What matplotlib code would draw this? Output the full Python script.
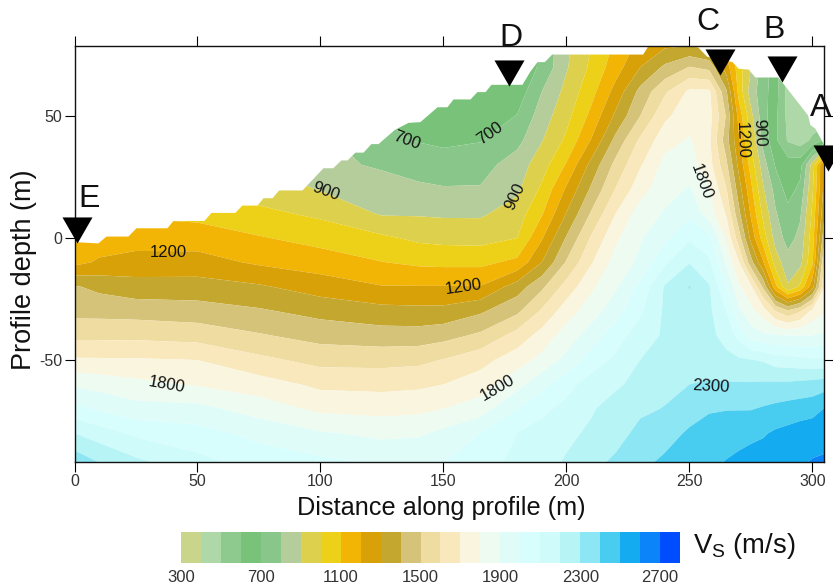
#!/usr/bin/env python
# -*- coding: utf-8 -*-
import numpy as np
import matplotlib
matplotlib.use('Agg')
import matplotlib.pyplot as plt

plt.rcParams['font.family'] = ['Liberation Sans', 'DejaVu Sans']
plt.rcParams['mathtext.fontset'] = 'custom'
plt.rcParams['mathtext.rm'] = 'Liberation Sans'
plt.rcParams['axes.unicode_minus'] = False

# Vs section
distance = [0, 10, 25, 50, 75, 100, 125, 140, 150, 165, 180, 190, 200, 210, 220, 230, 240, 250, 258,
            265, 270, 275, 280, 285, 290, 295, 300, 305]
depth = [79, 70, 60, 50, 40, 30, 20, 10, 0, -10, -20, -30, -40, -50, -60, -70, -80, -92]
vs = [
    [1000, 1000, 1000, 1000, 900, 800, 700, 660, 650, 620, 620, 720, 880, 1000, 1120, 1230, 1280, 1295, 1250, 1150, 1100, 950, 800, 700, 500, 450, 450, 450],
    [1000, 1000, 1000, 1000, 900, 800, 680, 650, 640, 620, 620, 720, 890, 1020, 1155, 1300, 1420, 1505, 1470, 1250, 1050, 900, 750, 650, 450, 440, 440, 440],
    [1000, 1000, 1000, 1000, 900, 800, 680, 630, 630, 620, 640, 800, 930, 1065, 1235, 1430, 1585, 1720, 1720, 1415, 1070, 850, 740, 640, 460, 430, 430, 430],
    [1000, 1000, 1000, 1000, 900, 810, 690, 630, 620, 630, 705, 850, 970, 1125, 1320, 1500, 1680, 1760, 1740, 1490, 1165, 930, 740, 625, 470, 440, 430, 430],
    [1000, 1000, 1000, 1000, 900, 820, 735, 695, 680, 695, 770, 895, 1020, 1205, 1430, 1620, 1760, 1810, 1720, 1440, 1220, 980, 770, 620, 490, 450, 520, 620],
    [1050, 1050, 1050, 1000, 900, 830, 785, 755, 745, 760, 850, 955, 1110, 1330, 1530, 1690, 1830, 1845, 1740, 1520, 1275, 1060, 845, 690, 650, 660, 945, 1350],
    [1060, 1060, 1060, 1040, 950, 895, 850, 820, 808, 808, 880, 1020, 1215, 1415, 1605, 1760, 1860, 1910, 1810, 1605, 1350, 1125, 910, 765, 660, 725, 985, 1350],
    [1080, 1080, 1085, 1070, 1025, 980, 890, 890, 885, 885, 950, 1090, 1305, 1510, 1700, 1850, 1910, 1975, 1850, 1690, 1430, 1185, 975, 810, 730, 785, 1020, 1400],
    [1130, 1140, 1155, 1152, 1108, 1065, 1018, 980, 970, 965, 1000, 1190, 1410, 1610, 1780, 1890, 1975, 2090, 2030, 1780, 1550, 1270, 1050, 860, 760, 830, 1055, 1480],
    [1170, 1215, 1240, 1240, 1185, 1150, 1103, 1080, 1075, 1075, 1125, 1300, 1510, 1690, 1840, 1920, 2085, 2195, 2120, 1880, 1710, 1440, 1210, 950, 840, 870, 1085, 1620],
    [1410, 1375, 1340, 1342, 1313, 1253, 1205, 1205, 1205, 1205, 1350, 1480, 1640, 1780, 1885, 2030, 2210, 2305, 2210, 2000, 1820, 1720, 1480, 1130, 910, 1020, 1260, 1700],
    [1470, 1468, 1460, 1445, 1413, 1368, 1335, 1328, 1330, 1385, 1480, 1615, 1755, 1850, 1960, 2085, 2215, 2260, 2220, 2100, 1920, 1830, 1750, 1600, 1520, 1590, 1730, 1790],
    [1570, 1572, 1575, 1560, 1510, 1464, 1445, 1445, 1465, 1520, 1640, 1740, 1845, 1950, 2055, 2150, 2215, 2250, 2230, 2160, 2070, 1950, 1920, 1910, 1900, 1900, 1900, 1920],
    [1714, 1712, 1710, 1700, 1625, 1567, 1565, 1575, 1605, 1665, 1755, 1830, 1930, 2045, 2120, 2200, 2250, 2270, 2260, 2230, 2215, 2205, 2190, 2150, 2145, 2130, 2120, 2120],
    [1883, 1860, 1828, 1790, 1745, 1678, 1670, 1680, 1700, 1750, 1865, 1970, 2065, 2145, 2185, 2230, 2270, 2300, 2310, 2310, 2310, 2310, 2315, 2320, 2320, 2330, 2340, 2355],
    [2030, 1990, 1937, 1930, 1855, 1776, 1765, 1775, 1800, 1850, 2000, 2075, 2130, 2190, 2240, 2280, 2305, 2355, 2390, 2395, 2395, 2395, 2410, 2425, 2440, 2450, 2460, 2505],
    [2200, 2150, 2080, 2040, 1970, 1910, 1875, 1885, 1925, 2000, 2100, 2140, 2180, 2215, 2260, 2330, 2360, 2415, 2440, 2460, 2470, 2480, 2490, 2515, 2530, 2550, 2565, 2565],
    [2370, 2300, 2225, 2130, 2060, 2025, 1990, 1990, 2000, 2050, 2130, 2165, 2210, 2270, 2320, 2375, 2420, 2460, 2480, 2505, 2520, 2535, 2550, 2565, 2580, 2590, 2606, 2615],
]

# ground surface (stepped)
surface_x = [0, 9.5, 12.8, 21.7, 25, 37.6, 40, 52.6, 55.5, 65.2, 68, 74.2, 76.6, 80.3, 83, 92.5, 101, 105,
             108.3, 110.8, 114, 117.3, 120.5, 123.4, 130, 135.6, 140.4, 147.4, 151.4, 153.9, 160.8, 163.6,
             166.9, 169.3, 181.9, 185, 188, 191, 194, 231, 233, 253, 257, 267.3, 269.8, 274, 276.6, 286,
             298, 299, 301, 305]
surface_y = [-1.5, -2, 0.8, 0.8, 4.2, 4.2, 7.2, 7.2, 10.5, 10.5, 13.5, 13.5, 16.5, 16.5, 19.7, 19.7, 28.8, 28.8,
             32, 32, 35.2, 35.2, 38.7, 38.7, 44.5, 47.4, 47.7, 53.8, 53.8, 57, 57, 60,
             60, 63, 63, 68.2, 72.3, 72.3, 75.4, 75.4, 78.7, 78.7, 74.5, 72.3, 69.6, 69.2, 66, 66,
             50.5, 46.5, 45, 37.5]

levels = list(range(300, 2900, 100))
band_colors = ['#c8d58a', '#aed8a8', '#8ec98e', '#79c279', '#88c68a', '#b5cc9b', '#dcd04c', '#edd118',
               '#f3b505', '#d9a108', '#c4a72e', '#d6c37a', '#efdca0', '#f8e8bb', '#f9f5df', '#eefbf1',
               '#e0fcf8', '#d8fdfd', '#d0fbfb', '#b6f4f6', '#8ce6f3', '#48cdf1', '#14abf0', '#0a84f8',
               '#004cff']
cbar_ticks = [300, 700, 1100, 1500, 1900, 2300, 2700]

# contour labels: text, x, y, rotation
contour_text = ['1200', '900', '700', '700', '900', '1200', '1800', '1800', '1800', '2300', '1200', '900']
contour_x = [38, 102, 135, 169, 179, 158, 37.6, 172, 254.7, 258.7, 271.3, 278.3]
contour_y = [-6, 19, 40, 43, 17, -20, -60, -61.5, 23, -61, 40, 43]
contour_rot = [0, -20, -20, 35, 65, 8, -10, 30, -70, -3, -88, -88]

# stations
station_name = ['E', 'D', 'C', 'B', 'A']
station_x = [1, 176.6, 262.6, 287.6, 306.3]
station_y = [3.3, 67.8, 72.3, 69.3, 32.6]
name_px = [(89, 199), (511, 38), (708, 22), (774, 30), (821, 108)]

W, H = 833.0, 588.0
fig = plt.figure(figsize=(8.33, 5.88), dpi=100)
ax = fig.add_axes([74.5 / W, 1 - 462 / H, (824 - 74.5) / W, (462 - 46) / H])

cf = ax.contourf(distance, depth, np.array(vs, dtype=float), levels=levels, colors=band_colors,
                 antialiased=True, zorder=1)
# white out everything above the ground
ax.fill_between(surface_x, surface_y, 79, color='white', lw=0, zorder=2)

for t, x, y, r in zip(contour_text, contour_x, contour_y, contour_rot):
    ax.text(x, y, t, rotation=r, rotation_mode='anchor', ha='center', va='center', fontsize=12,
            color='#111111', zorder=5)

ax.plot(station_x, station_y, ls='none', marker=[(-1, 0.87), (1, 0.87), (0, -0.87)], ms=21.6,
        color='black', mew=0, clip_on=False, zorder=6)
for name, (px, py) in zip(station_name, name_px):
    fig.text(px / W, 1 - py / H, name, fontsize=23, ha='center', va='center', color='#111111')

ax.set_xlim(0, 304.7)
ax.set_ylim(-91.8, 78.7)
ax.set_xticks([0, 50, 100, 150, 200, 250, 300])
ax.set_yticks([-50, 0, 50])
ax.tick_params(axis='both', direction='out', length=7, width=0.8, top=True, right=True, labelsize=11.5,
               labelcolor='#333333', pad=2)
for s in ax.spines.values():
    s.set_linewidth(1.0)
    s.set_color('#111111')

fig.text(441 / W, 1 - 508 / H, 'Distance along profile (m)', fontsize=18.2, ha='center', va='center', color='#111111')
fig.text(24 / W, 1 - 270 / H, 'Profile depth (m)', fontsize=19.5, rotation=90, ha='center', va='center', color='#111111')

cax = fig.add_axes([181 / W, 1 - 563 / H, (680 - 181) / W, (563 - 532) / H])
cb = fig.colorbar(cf, cax=cax, orientation='horizontal', ticks=cbar_ticks)
cb.outline.set_visible(False)
cb.ax.tick_params(length=0, labelsize=12, labelcolor='#333333', pad=5)
cb.ax.minorticks_off()
fig.text(693 / W, 1 - 546 / H, r'$\mathrm{V_S}$ (m/s)', fontsize=19.8, ha='left', va='center', color='#111111')

fig.savefig('out.png', dpi=100)
